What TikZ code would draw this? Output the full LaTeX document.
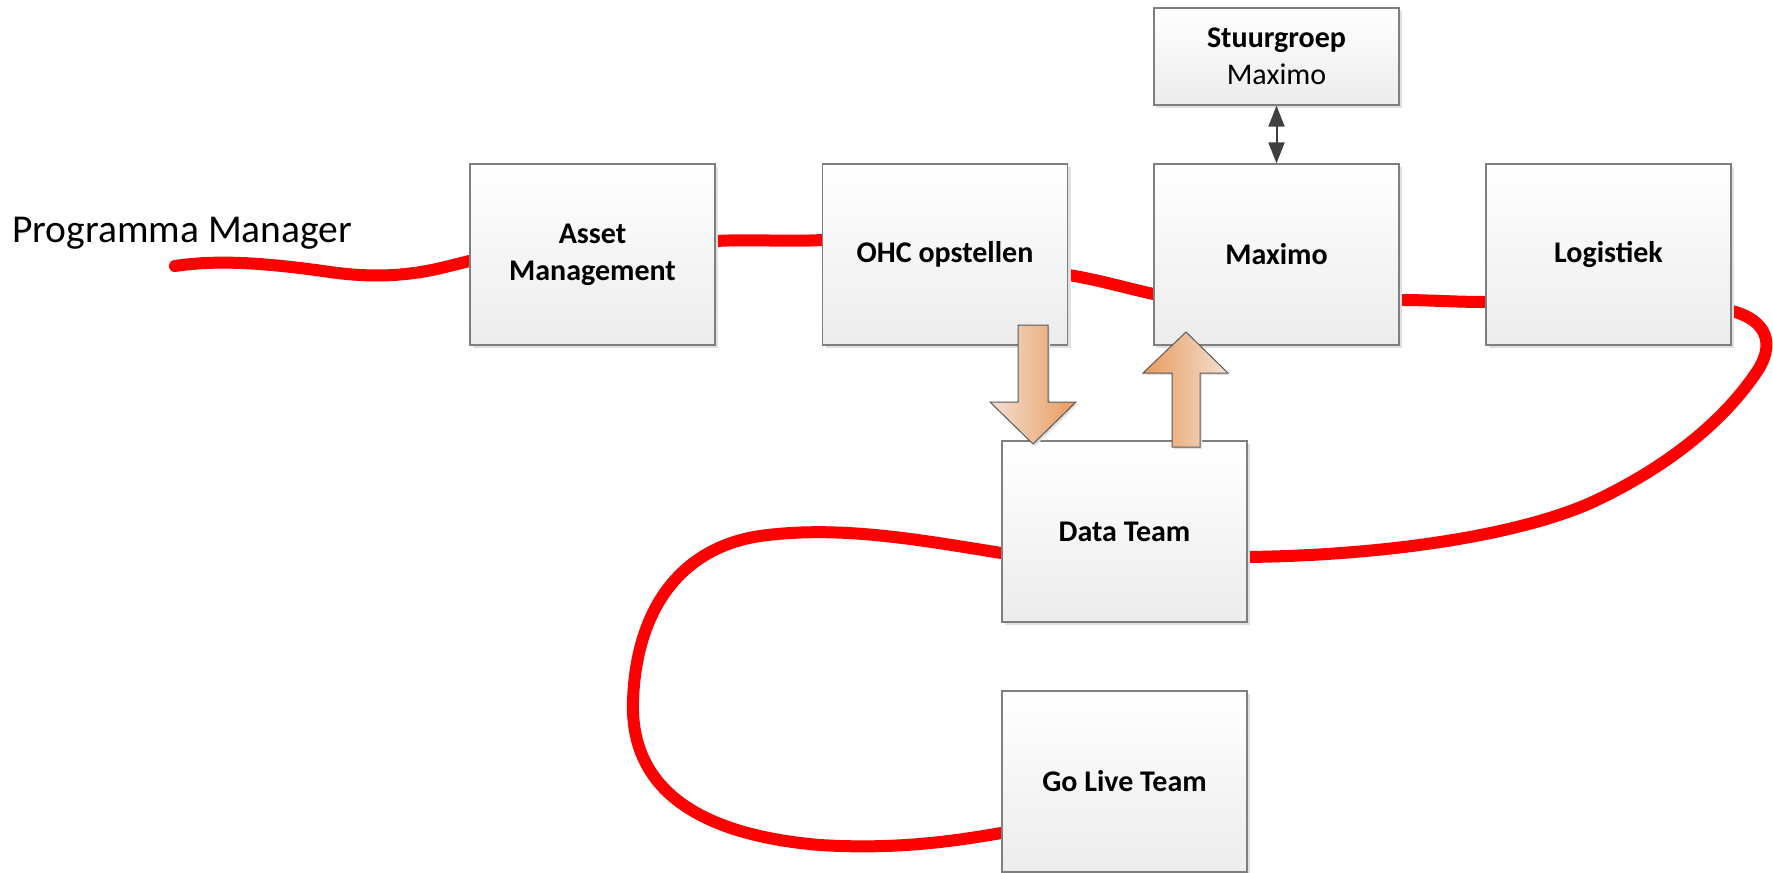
\documentclass[tikz,border=0pt]{standalone}
\usepackage{fontspec}
\setmainfont{Carlito}
\usetikzlibrary{arrows.meta,calc,shadows}
\pgfdeclarelayer{bg}
\pgfsetlayers{bg,main}
\definecolor{boxline}{HTML}{7F7F7F}
\definecolor{boxbot}{HTML}{ECECEC}
\definecolor{arrowgray}{HTML}{404040}
\definecolor{oLight}{HTML}{F3E0D3}
\definecolor{oDark}{HTML}{E89A5C}
\definecolor{redl}{HTML}{FF0000}
\begin{document}
\begin{tikzpicture}[x=1pt,y=-1pt,
  box/.style={draw=boxline, line width=1.3pt, top color=white, bottom color=boxbot,
    minimum width=245pt, minimum height=181pt, inner sep=0pt, align=center,
    font=\fontsize{30}{37}\selectfont\bfseries,
    drop shadow={shadow xshift=3pt, shadow yshift=-3pt, fill=black!12, opacity=1}},
  redline/.style={draw=redl, line width=12pt, line cap=round},
  dbl/.style={{Triangle[width=16pt,length=21pt]}-{Triangle[width=16pt,length=21pt]}, line width=2pt, draw=arrowgray},
  blockarrow/.style={draw=black!65, line width=1pt,
    drop shadow={shadow xshift=2pt, shadow yshift=-2pt, fill=black!12, opacity=1}}]
\useasboundingbox (0,0) rectangle (1773,873);

\node[box] (am) at (592.5,254.5) {Asset\\Management};
\node[box] (ohc) at (945,254.5) {OHC opstellen};
\node[box] (mx) at (1276.5,254.5) {Maximo};
\node[box] (lg) at (1608.5,254.5) {Logistiek};
\node[box, minimum height=97pt] (sg) at (1276.5,56.5) {Stuurgroep\\\mdseries Maximo};
\node[box] (dt) at (1124.5,531.5) {Data Team};
\node[box] (gl) at (1124.5,781.5) {Go Live Team};
\node[font=\fontsize{39.5}{47}\selectfont, anchor=base west, inner sep=0pt] (pm) at (12,242) {Programma Manager};
\coordinate (s) at (175,266);

\begin{pgfonlayer}{bg}
\draw[redline] (s) .. controls (215,260) and (260,262) .. (330,272)
  .. controls (400,282) and (440,268) .. ($(am.west)+(0,6.5)$);
\draw[redline] ($(am.east)+(0,-13.5)$) .. controls (755,239) and (785,242) .. ($(ohc.west)+(0,-14.5)$);
\draw[redline] ($(ohc.east)+(0,20.5)$) .. controls (1095,279) and (1122,287) .. ($(mx.west)+(0,39.5)$);
\draw[redline] ($(mx.east)+(0,45.5)$) .. controls (1430,300) and (1455,302) .. ($(lg.west)+(0,47.5)$);
\draw[redline] ($(lg.east)+(0,56.5)$) .. controls (1760,318) and (1778,338) .. (1758,370)
  .. controls (1725,420) and (1670,465) .. (1597,500)
  .. controls (1530,532) and (1400,555) .. ($(dt.east)+(0,25.5)$);
\draw[redline] ($(dt.west)+(0,21.5)$) .. controls (920,540) and (840,525) .. (760,536)
  .. controls (680,548) and (636,610) .. (633,701)
  .. controls (630,790) and (700,835) .. (820,845)
  .. controls (900,850) and (960,840) .. ($(gl.west)+(0,51.5)$);
\end{pgfonlayer}

\draw[dbl] (sg) -- (mx);

\draw[blockarrow, left color=oLight, right color=oDark]
  (1018,325) -- (1048,325) -- (1048,402) -- (1076,402) -- (1033,444) -- (990,402) -- (1018,402) -- cycle;
\draw[blockarrow, left color=oDark, right color=oLight]
  (1172,447) -- (1200,447) -- (1200,373) -- (1228,373) -- (1186,332) -- (1143,373) -- (1172,373) -- cycle;
\end{tikzpicture}
\end{document}
